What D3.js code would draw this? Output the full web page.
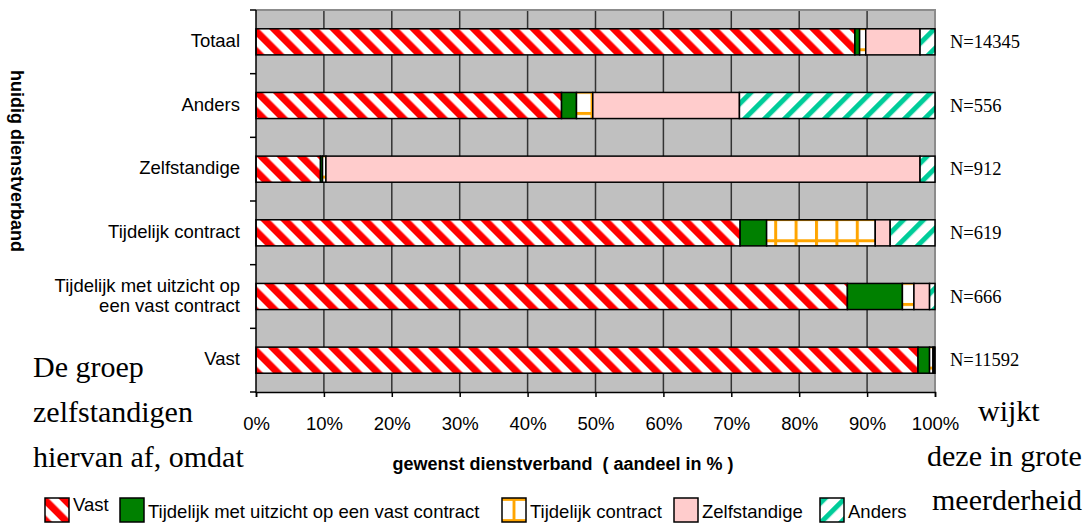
<!DOCTYPE html>
<html><head><meta charset="utf-8">
<script src="https://cdn.jsdelivr.net/npm/d3@7"></script>
<style>
html,body{margin:0;padding:0;background:#fff;}
svg{display:block;}
</style></head>
<body>
<svg id="chart" width="1086" height="523"></svg>
<script>
// ---- data ----
const categories = ["Totaal", "Anders", "Zelfstandige", "Tijdelijk contract", "Tijdelijk met uitzicht op een vast contract", "Vast"];
const categoryLabelLines = [["Totaal"], ["Anders"], ["Zelfstandige"], ["Tijdelijk contract"], ["Tijdelijk met uitzicht op", "een vast contract"], ["Vast"]];
const seriesNames = ["Vast", "Tijdelijk met uitzicht op een vast contract", "Tijdelijk contract", "Zelfstandige", "Anders"];
const vastValues         = [88.2, 45.0,  9.5, 71.3, 87.1, 97.5];
const tijdMetValues      = [ 0.7,  2.2,  0.3,  3.9,  8.1,  1.7];
const tijdContractValues = [ 0.9,  2.4,  0.5, 16.0,  1.7,  0.5];
const zelfstandigeValues = [ 8.0, 21.6, 87.5,  2.2,  2.3,  0.2];
const andersValues       = [ 2.2, 28.8,  2.2,  6.6,  0.8,  0.1];
const nLabels = ["N=14345", "N=556", "N=912", "N=619", "N=666", "N=11592"];
const xTicks = [0, 10, 20, 30, 40, 50, 60, 70, 80, 90, 100];
const xTitle = "gewenst dienstverband  ( aandeel in % )";
const yTitle = "huidig dienstverband";
const leftText = ["De groep", "zelfstandigen", "hiervan af, omdat"];
const rightText = ["wijkt", "deze in grote", "meerderheid"];

const seriesValues = [vastValues, tijdMetValues, tijdContractValues, zelfstandigeValues, andersValues];
const rows = categories.map((c, i) => {
  const r = {cat: c};
  seriesNames.forEach((s, k) => r[s] = seriesValues[k][i]);
  return r;
});
const stacked = d3.stack().keys(seriesNames)(rows);

// ---- layout ----
const svg = d3.select("#chart");
const plot = {x0: 256, x1: 935, y0: 10, y1: 392};
const x = d3.scaleLinear().domain([0, 100]).range([plot.x0, plot.x1]);
const y = d3.scaleBand().domain(categories).range([plot.y0, plot.y1]).paddingInner(0.59).paddingOuter(0.295);
const SANS = "'Liberation Sans', Arial, sans-serif";
const SERIF = "'Liberation Serif', 'Times New Roman', serif";

// ---- patterns ----
const defs = svg.append("defs");
function stripes(id, color, angle, bw) {
  const p = defs.append("pattern").attr("id", id).attr("patternUnits", "userSpaceOnUse")
    .attr("width", 14.14).attr("height", 14.14).attr("patternTransform", `rotate(${angle})`);
  p.append("rect").attr("width", 14.14).attr("height", 14.14).attr("fill", "#fff");
  p.append("rect").attr("width", bw).attr("height", 14.14).attr("fill", color);
}
stripes("pVast", "#ff0000", -45, 7.07);
stripes("pAnders", "#00cc99", 45, 5);
const tileW = 20.4, tileH = y.step() / 3;
const pg = defs.append("pattern").attr("id", "pTC").attr("patternUnits", "userSpaceOnUse")
  .attr("width", tileW).attr("height", tileH).attr("x", -1).attr("y", y(categories[0]) + 19.5);
pg.append("rect").attr("width", tileW).attr("height", tileH).attr("fill", "#fff");
pg.append("rect").attr("x", 0).attr("width", 3).attr("height", tileH).attr("fill", "#ffa500");
pg.append("rect").attr("y", 0).attr("width", tileW).attr("height", 3).attr("fill", "#ffa500");
const pl = defs.append("pattern").attr("id", "pTCleg").attr("patternUnits", "objectBoundingBox")
  .attr("patternContentUnits", "objectBoundingBox").attr("width", 1).attr("height", 1);
pl.append("rect").attr("width", 1).attr("height", 1).attr("fill", "#fff");
pl.append("rect").attr("x", 0.44).attr("width", 0.12).attr("height", 1).attr("fill", "#ffa500");
pl.append("rect").attr("y", 0).attr("width", 1).attr("height", 0.12).attr("fill", "#ffa500");
pl.append("rect").attr("y", 0.88).attr("width", 1).attr("height", 0.12).attr("fill", "#ffa500");

const fills = {
  "Vast": "url(#pVast)",
  "Tijdelijk met uitzicht op een vast contract": "#008000",
  "Tijdelijk contract": "url(#pTC)",
  "Zelfstandige": "#ffcccc",
  "Anders": "url(#pAnders)"
};
const legendFills = Object.assign({}, fills, {"Tijdelijk contract": "url(#pTCleg)"});

// ---- plot background & grid ----
svg.append("rect").attr("x", plot.x0).attr("y", plot.y0).attr("width", plot.x1 - plot.x0).attr("height", plot.y1 - plot.y0)
  .attr("fill", "#c0c0c0");
svg.append("g").selectAll("line").data(xTicks.filter(t => t > 0 && t < 100)).join("line")
  .attr("x1", d => x(d)).attr("x2", d => x(d)).attr("y1", plot.y0).attr("y2", plot.y1)
  .attr("stroke", "#333").attr("stroke-width", 1.5);
// frame top/right
svg.append("path").attr("d", `M${plot.x0},${plot.y0}H${plot.x1}V${plot.y1}`)
  .attr("fill", "none").attr("stroke", "#8c8c8c").attr("stroke-width", 2);

// ---- bars ----
svg.append("g").selectAll("g").data(stacked).join("g")
  .attr("fill", d => fills[d.key])
  .selectAll("rect").data(d => d).join("rect")
  .attr("x", d => x(d[0])).attr("width", d => x(d[1]) - x(d[0]))
  .attr("y", d => y(d.data.cat)).attr("height", y.bandwidth())
  .attr("stroke", "#000").attr("stroke-width", 1.5);

// ---- axes ----
const xAxis = svg.append("g").attr("transform", `translate(0,${plot.y1})`)
  .call(d3.axisBottom(x).tickValues(xTicks).tickFormat(d => d + "%").tickSize(5).tickPadding(20));
xAxis.select(".domain").attr("stroke", "#000").attr("stroke-width", 1.5);
xAxis.selectAll(".tick line").attr("stroke", "#000").attr("stroke-width", 1.5);
xAxis.selectAll("text").attr("font-family", SANS).attr("font-size", 18.5).attr("fill", "#000");

// y axis line + ticks at band boundaries
const bounds = d3.range(categories.length + 1).map(i => plot.y0 + i * (plot.y1 - plot.y0) / categories.length);
svg.append("line").attr("x1", plot.x0).attr("x2", plot.x0).attr("y1", plot.y0).attr("y2", plot.y1 + 1)
  .attr("stroke", "#000").attr("stroke-width", 1.5);
svg.append("g").selectAll("line").data(bounds).join("line")
  .attr("x1", plot.x0 - 6).attr("x2", plot.x0).attr("y1", d => d).attr("y2", d => d)
  .attr("stroke", "#000").attr("stroke-width", 1.5);

// category labels
svg.append("g").selectAll("text").data(categories).join("text")
  .attr("font-family", SANS).attr("font-size", 18.5).attr("text-anchor", "end").attr("fill", "#000")
  .each(function(c, i) {
    const lines = categoryLabelLines[i];
    const cy = y(c) + y.bandwidth() / 2;
    const lh = 20;
    d3.select(this).selectAll("tspan").data(lines).join("tspan")
      .attr("x", 240).attr("y", (l, j) => cy + 5 + (j - (lines.length - 1) / 2) * lh).text(l => l);
  });

// N labels
svg.append("g").selectAll("text").data(nLabels).join("text")
  .attr("x", 950).attr("y", (d, i) => y(categories[i]) + y.bandwidth() / 2 + 6)
  .attr("font-family", SERIF).attr("font-size", 18.5).attr("fill", "#000").text(d => d);

// axis titles
svg.append("text").attr("x", 563).attr("y", 470).attr("text-anchor", "middle")
  .attr("font-family", SANS).attr("font-weight", "bold").attr("font-size", 18).attr("fill", "#000")
  .attr("xml:space", "preserve").style("white-space", "pre").text(xTitle);
svg.append("text").attr("transform", "translate(11,161) rotate(90)").attr("text-anchor", "middle")
  .attr("font-family", SANS).attr("font-weight", "bold").attr("font-size", 18).attr("fill", "#000").text(yTitle);

// overlapping body text
svg.append("g").selectAll("text").data(leftText).join("text")
  .attr("x", 33).attr("y", (d, i) => 377 + i * 45)
  .attr("font-family", SERIF).attr("font-size", 30).attr("fill", "#000").text(d => d);
const rightX = [978, 927, 932];
svg.append("g").selectAll("text").data(rightText).join("text")
  .attr("x", (d, i) => rightX[i]).attr("y", (d, i) => 421 + i * 44.5)
  .attr("font-family", SERIF).attr("font-size", 30).attr("fill", "#000").text(d => d);

// legend
const leg = svg.append("g");
const legendX = [45, 120, 502, 674, 820];
seriesNames.forEach((s, i) => {
  const lx = legendX[i];
  leg.append("rect").attr("x", lx).attr("y", 498).attr("width", 24).attr("height", 24)
    .attr("fill", legendFills[s]).attr("stroke", "#000").attr("stroke-width", 1.5);
  leg.append("text").attr("x", lx + 28).attr("y", s === "Vast" ? 511 : 518)
    .attr("font-family", SANS).attr("font-size", 18.5).attr("fill", "#000").text(s);
});
</script>
</body></html>
